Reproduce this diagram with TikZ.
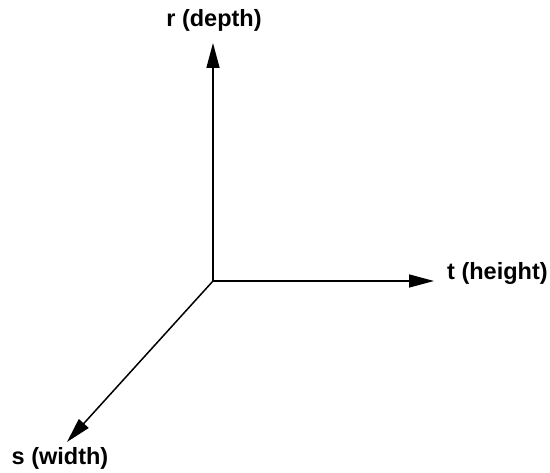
\documentclass[tikz,border=0pt]{standalone}
\usepackage{fontspec}
\setmainfont{Liberation Sans}
\usetikzlibrary{arrows.meta}
\begin{document}
\begin{tikzpicture}[x=1pt,y=-1pt,
  axis/.style={line width=1.5pt,-{Triangle[length=25pt,width=13pt]}},
  lbl/.style={inner sep=0pt,font=\bfseries\fontsize{23.5}{28}\selectfont}]
\useasboundingbox (0,0) rectangle (550,473);
\coordinate (o) at (213,281);
\coordinate (r) at (213,43);
\coordinate (t) at (434,281);
\coordinate (s) at (67,442);
\draw[axis] (o) -- (r);
\draw[axis] (o) -- (t);
\draw[axis] (o) -- (s);
\node[lbl] (rl) at (214,20) {r (depth)};
\node[lbl,anchor=west] (tl) at (447,273) {t (height)};
\node[lbl] (sl) at (60,458) {s (width)};
\end{tikzpicture}
\end{document}
